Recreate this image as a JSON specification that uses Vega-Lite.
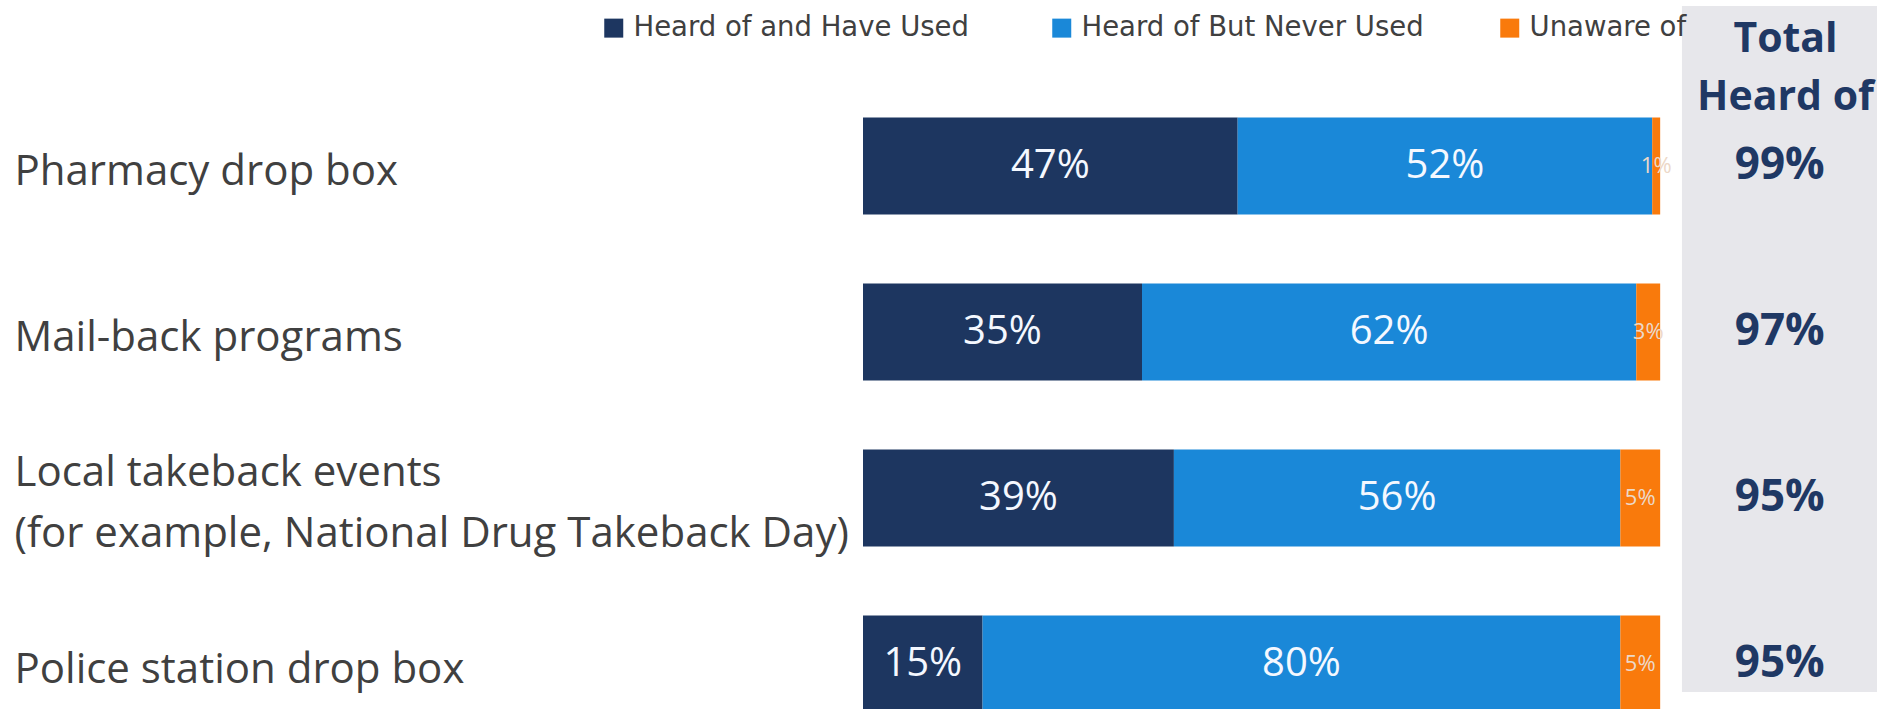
{
  "$schema": "https://vega.github.io/schema/vega-lite/v6.json",
  "width": 1014,
  "height": 686,
  "autosize": {"type": "none"},
  "padding": {"left": 863, "top": 6, "right": 0, "bottom": 17},
  "background": "white",
  "config": {"font": "Open Sans", "view": {"stroke": null}},
  "datasets": {
    "responses": [
      {"item": "Pharmacy drop box", "response": "Heard of and Have Used", "rank": 1, "share": 0.47},
      {"item": "Pharmacy drop box", "response": "Heard of But Never Used", "rank": 2, "share": 0.52},
      {"item": "Pharmacy drop box", "response": "Unaware of", "rank": 3, "share": 0.01},
      {"item": "Mail-back programs", "response": "Heard of and Have Used", "rank": 1, "share": 0.35},
      {"item": "Mail-back programs", "response": "Heard of But Never Used", "rank": 2, "share": 0.62},
      {"item": "Mail-back programs", "response": "Unaware of", "rank": 3, "share": 0.03},
      {"item": "Local takeback events (for example, National Drug Takeback Day)", "response": "Heard of and Have Used", "rank": 1, "share": 0.39},
      {"item": "Local takeback events (for example, National Drug Takeback Day)", "response": "Heard of But Never Used", "rank": 2, "share": 0.56},
      {"item": "Local takeback events (for example, National Drug Takeback Day)", "response": "Unaware of", "rank": 3, "share": 0.05},
      {"item": "Police station drop box", "response": "Heard of and Have Used", "rank": 1, "share": 0.15},
      {"item": "Police station drop box", "response": "Heard of But Never Used", "rank": 2, "share": 0.80},
      {"item": "Police station drop box", "response": "Unaware of", "rank": 3, "share": 0.05}
    ],
    "totals": [
      {"item": "Pharmacy drop box", "total": 0.99},
      {"item": "Mail-back programs", "total": 0.97},
      {"item": "Local takeback events (for example, National Drug Takeback Day)", "total": 0.95},
      {"item": "Police station drop box", "total": 0.95}
    ]
  },
  "layer": [
    {
      "data": {"values": [{}]},
      "mark": {"type": "rect", "color": "#e7e7eb"},
      "encoding": {
        "x": {"datum": 1.0273, "type": "quantitative", "scale": {"domain": [0, 1.272], "nice": false, "zero": true}},
        "x2": {"datum": 1.272}
      }
    },
    {
      "data": {"name": "responses"},
      "mark": {"type": "bar"},
      "encoding": {
        "y": {
          "field": "item", "type": "nominal", "sort": null, "title": null,
          "scale": {
            "domain": ["Pharmacy drop box", "Mail-back programs", "Local takeback events (for example, National Drug Takeback Day)", "Police station drop box"],
            "range": [111.5, 706.5], "paddingInner": 0.416, "paddingOuter": 0
          },
          "axis": {
            "title": null, "ticks": false, "tickSize": 0, "domain": false, "grid": false,
            "labelAlign": "left", "labelPadding": 849, "labelFontSize": 42, "labelFont": "Open Sans",
            "labelColor": "#404040", "labelLimit": 900, "labelLineHeight": 61, "labelBaseline": "middle",
            "labelOffset": {"condition": {"test": "datum.value === 'Local takeback events (for example, National Drug Takeback Day)'", "value": -25}, "value": 6},
            "labelExpr": "datum.value === 'Local takeback events (for example, National Drug Takeback Day)' ? ['Local takeback events', '(for example, National Drug Takeback Day)'] : datum.label"
          }
        },
        "x": {
          "field": "share", "type": "quantitative", "stack": "zero",
          "title": ["Total", "Heard of"],
          "axis": {
            "orient": "top", "labels": false, "ticks": false, "domain": false, "grid": false, "zindex": 2,
            "title": ["Total", "Heard of"], "titleX": 922, "titleY": 33.5, "titleAlign": "center",
            "titleBaseline": "middle", "titleAngle": 0, "titleFontSize": 41, "titleFontWeight": "bold",
            "titleColor": "#1f3864", "titleLineHeight": 57.5, "titleFont": "Open Sans"
          }
        },
        "color": {
          "field": "response", "type": "nominal",
          "sort": ["Heard of and Have Used", "Heard of But Never Used", "Unaware of"],
          "scale": {"domain": ["Heard of and Have Used", "Heard of But Never Used", "Unaware of"], "range": ["#1d3660", "#1a88d8", "#f97a0c"]},
          "legend": {
            "orient": "none", "legendX": -263, "legendY": 8, "direction": "horizontal", "columns": 3,
            "title": null, "symbolType": "square", "symbolSize": 361, "symbolStrokeWidth": 0,
            "labelFontSize": 27.5, "labelColor": "#404040", "labelFont": "DejaVu Sans", "labelOffset": 6,
            "columnPadding": 72, "gridAlign": "all", "labelLimit": 500, "padding": 0
          }
        },
        "order": {"field": "rank", "type": "quantitative"}
      }
    },
    {
      "data": {"name": "responses"},
      "mark": {"type": "text", "baseline": "middle", "align": "center"},
      "encoding": {
        "y": {"field": "item", "type": "nominal", "sort": null, "title": null},
        "x": {"field": "share", "type": "quantitative", "stack": "zero", "bandPosition": 0.5, "title": ["Total", "Heard of"]},
        "detail": {"field": "response", "type": "nominal"},
        "order": {"field": "rank", "type": "quantitative"},
        "text": {"field": "share", "type": "quantitative", "format": ".0%"},
        "color": {"condition": {"test": "datum.response === 'Unaware of'", "value": "#ecd8c8"}, "value": "#f4f8ff"},
        "size": {"condition": {"test": "datum.response === 'Unaware of'", "value": 22}, "value": 40}
      }
    },
    {
      "data": {"name": "totals"},
      "mark": {"type": "text", "fontWeight": "bold", "fontSize": 44, "color": "#1f3864", "baseline": "middle", "align": "center"},
      "encoding": {
        "y": {"field": "item", "type": "nominal", "sort": null, "title": null},
        "x": {"datum": 1.15, "type": "quantitative"},
        "text": {"field": "total", "type": "quantitative", "format": ".0%"}
      }
    }
  ]
}
